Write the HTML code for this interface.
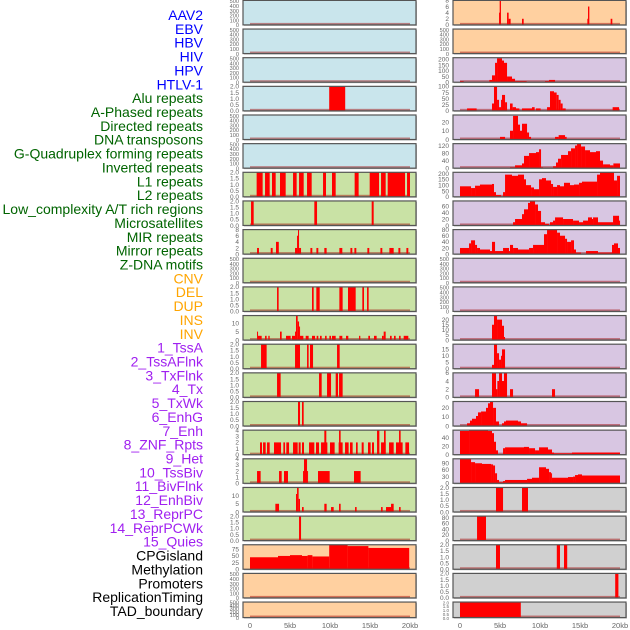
<!DOCTYPE html>
<html><head><meta charset="utf-8"><style>
html,body{margin:0;padding:0;background:#fff;}
svg{display:block;font-family:"Liberation Sans",sans-serif;}
</style></head><body>
<svg id="chart" width="630" height="630" viewBox="0 0 630 630" xmlns="http://www.w3.org/2000/svg"></svg>
<script>
// ---- row labels ----
const labelTexts = ["AAV2","EBV","HBV","HIV","HPV","HTLV-1","Alu repeats","A-Phased repeats","Directed repeats","DNA transposons","G-Quadruplex forming repeats","Inverted repeats","L1 repeats","L2 repeats","Low_complexity A/T rich regions","Microsatellites","MIR repeats","Mirror repeats","Z-DNA motifs","CNV","DEL","DUP","INS","INV","1_TssA","2_TssAFlnk","3_TxFlnk","4_Tx","5_TxWk","6_EnhG","7_Enh","8_ZNF_Rpts","9_Het","10_TssBiv","11_BivFlnk","12_EnhBiv","13_ReprPC","14_ReprPCWk","15_Quies","CPGisland","Methylation","Promoters","ReplicationTiming","TAD_boundary"];
const labelGroups = ["v","v","v","v","v","v","r","r","r","r","r","r","r","r","r","r","r","r","r","s","s","s","s","s","c","c","c","c","c","c","c","c","c","c","c","c","c","c","c","o","o","o","o","o"];
// ---- x axis ----
const xTickValues = [0,5,10,15,20];
const xTickLabels = ["0","5kb","10kb","15kb","20kb"];
// ---- tick sets ----
const T500 = [0,100,200,300,400,500];
const T2 = [0,0.5,1,1.5,2];
// ---- left column series: [startKb, endKb, value] ----
const L0=[],L1=[],L2=[],L4=[],L5=[],L9=[],L20=[],L21=[];
const L3=[[9.9,11.9,2]];
const L6=[[0.83,1.58,2],[1.88,2.46,2],[2.75,3.21,2],[3.75,4.46,2],[5.38,5.83,2],[6.13,6.71,2],[7.13,7.71,2],[9.13,9.5,2],[10.25,10.71,2],[13.08,13.58,2],[14.96,16.13,2],[16.38,16.96,2],[17.21,19.38,2],[19.63,20,2]];
const L7=[[0.13,0.46,2],[8.04,8.38,2],[15.21,15.46,2]];
const L8=[[0.88,1.12,2],[2.59,2.83,2],[3.25,3.6,4],[5.63,5.88,2],[5.88,6.0,6],[6.0,6.13,8],[6.13,6.38,2],[7.55,7.79,2],[8.3,8.54,2],[9.29,9.58,2],[11.17,11.54,2],[12.55,12.79,2],[13.05,13.29,2],[14.67,14.91,2],[16.3,16.54,2],[17.42,17.96,2],[18.55,18.79,2],[19.55,19.79,2]];
const L10=[[3.38,3.58,2],[7.75,7.96,2],[8.29,8.71,2],[11.17,11.58,2],[12.25,13.21,2],[14.04,14.25,2],[14.63,14.83,2]];
const L11=[[0.88,1.0,5],[1.0,1.46,2.5],[1.88,2.08,2.5],[2.29,2.46,2.5],[3.75,3.96,5],[4.5,5.08,2.5],[5.25,5.63,2.5],[5.63,5.75,5],[5.75,5.96,14.5],[5.96,6.13,11],[6.13,6.21,8],[6.21,6.67,2.5],[6.96,7.33,2.5],[7.75,8.13,2.5],[8.33,8.54,2.5],[8.75,8.96,2.5],[9.38,9.58,2.5],[9.92,10.13,2.5],[10.25,10.71,2.5],[11.17,11.54,2.5],[12.0,12.29,2.5],[13.63,13.79,2.5],[14.79,15.0,2.5],[15.5,15.83,2.5],[16.5,16.71,2.5],[16.71,16.96,5],[17.5,17.71,2.5],[18.0,18.21,2.5],[18.63,18.83,2.5],[19.21,19.79,2.5]];
const L12=[[1.38,2.08,2],[5.63,6.25,2],[7.13,7.33,2],[7.5,7.88,2],[10.88,11.21,2]];
const L13=[[3.38,3.83,2],[8.63,8.96,2],[9.63,10.13,2],[10.71,11.0,2],[11.13,11.58,2]];
const L14=[[6.0,6.25,2],[6.5,6.71,2]];
const L15=[[1.25,1.5,2],[1.63,1.96,2],[2.13,2.46,2],[3.0,3.88,2],[4.17,4.38,2],[4.54,4.88,2],[5.38,5.96,2],[6.08,6.33,2],[6.5,6.75,2],[7.38,8.04,2],[8.25,8.63,2],[8.88,9.67,2],[9.29,9.54,4],[10.0,10.58,2],[11.08,11.58,2],[11.13,11.33,4],[11.88,12.33,2],[12.5,12.83,2],[13.25,13.46,2],[13.96,14.21,2],[14.75,15.08,2],[15.25,15.5,2],[15.88,16.17,4],[16.38,16.96,2],[16.75,16.96,4],[17.38,17.96,2],[18.25,19.08,2],[18.63,18.83,4],[19.42,19.88,2]];
const L16=[[0.88,1.33,2],[3.63,3.96,2],[4.25,4.75,2],[6.63,6.75,2],[6.75,7.13,4],[7.13,7.25,2],[8.5,9.96,2],[13.0,13.83,2]];
const L17=[[3.17,3.63,5],[5.75,5.88,11],[5.88,6.08,15],[6.08,6.25,8],[6.5,6.71,3],[9.29,9.58,5],[10.13,10.46,3],[11.13,11.33,5],[13.13,13.33,3],[16.38,16.58,3],[17.0,17.63,3],[17.63,17.96,5],[18.63,18.83,3]];
const L18=[[6.13,6.38,2]];
const L19=[[0,3.5,45],[3.5,5,50],[5,6.5,53],[6.5,7.2,50],[7.2,7.8,53],[7.8,9.9,48],[9.9,12.2,92],[12.2,14.8,87],[14.8,19.9,80]];
// ---- right column series ----
const R1=[],R9=[],R10=[];
const R0=[[4.88,4.96,4],[4.96,5.12,8],[5.88,6.08,4],[6.08,6.33,2],[7.75,7.96,2],[15.92,16.0,2],[16.0,16.17,6],[18.83,19.04,2]];
const R2=[[0,0.46,10],[3.67,4.0,20],[4.0,4.38,60],[4.38,4.63,170],[4.63,5.25,210],[5.25,5.5,190],[5.5,5.88,170],[5.88,6.5,50],[6.5,6.88,30],[6.88,8.33,10],[10.63,11.13,10],[11.13,11.88,20]];
const R3=[[0.88,2.08,10],[4.0,4.25,30],[4.25,4.63,100],[4.63,4.88,45],[4.88,5.13,15],[5.13,5.25,45],[5.25,5.63,65],[5.63,5.88,35],[6.25,6.58,30],[6.58,7.0,15],[7.0,7.42,10],[7.75,9.0,10],[9.0,9.33,15],[9.5,10.08,10],[10.88,11.25,15],[11.25,11.75,80],[11.75,12.08,75],[12.08,12.33,65],[12.33,12.58,45],[12.58,12.83,30],[12.83,13.21,10],[19.08,19.88,15]];
const R4=[[5.0,5.63,3],[6.25,6.63,10],[6.63,7.25,27],[7.25,7.5,17],[7.5,7.75,10],[7.75,8.38,18],[8.38,8.63,8],[8.63,8.88,3],[11.88,12.33,3],[12.33,13.13,5],[13.13,13.33,3]];
const R5=[[6.25,6.88,5],[6.88,7.75,15],[7.75,8,25],[8,8.63,65],[8.63,9.5,80],[9.5,9.88,85],[9.88,10.13,100],[10.13,10.38,5],[11.63,12,10],[12,12.25,30],[12.25,12.63,50],[12.63,13.5,70],[13.5,13.88,90],[13.88,14.38,105],[14.38,14.63,120],[14.63,15.13,130],[15.13,15.63,115],[15.63,16.25,95],[16.25,17,85],[17,17.5,90],[17.5,17.88,40],[17.88,18.75,20],[18.75,19.17,15],[19.17,20,25]];
const R6=[[0,1.38,90],[1.38,1.88,75],[1.88,2.5,95],[2.5,4,105],[4,4.25,110],[4.25,4.5,40],[4.5,5.13,15],[5.38,5.63,40],[5.63,6.5,190],[6.5,7.25,180],[7.25,8,190],[8,8.25,150],[8.25,8.88,100],[8.88,9.25,80],[9.25,9.88,65],[9.88,10.25,150],[10.25,10.75,160],[10.75,11.38,140],[11.38,11.63,110],[11.63,12.13,85],[12.13,12.5,100],[12.5,13,90],[13,13.75,120],[13.75,14.25,100],[14.25,14.88,105],[14.88,15.25,120],[15.25,17.13,130],[17.13,17.5,190],[17.5,19.25,210],[19.25,19.63,140],[19.63,20,180]];
const R7=[[6.63,6.88,10],[6.88,7.75,20],[7.75,8,35],[8,8.5,50],[8.5,8.75,70],[8.75,9.38,75],[9.38,9.75,65],[9.75,10.13,45],[10.13,10.63,10],[10.63,11.13,5],[11.25,11.63,10],[11.63,11.88,15],[11.88,12.88,25],[12.88,14.13,20],[14.13,14.88,15],[14.88,15.38,10],[15.38,16,15],[16,16.5,25],[16.5,16.63,20],[16.63,17.25,25],[17.25,19.13,10],[19.13,19.88,30],[19.88,20,15]];
const R8=[[0,1.13,20],[1.13,1.38,35],[1.38,1.88,45],[1.88,2.13,30],[2.13,2.5,20],[2.5,3.75,15],[3.75,4,10],[4,4.38,40],[4.38,5.38,10],[5.38,6.13,20],[6.13,6.25,10],[6.25,6.63,30],[6.63,7.25,20],[7.25,8.63,15],[8.63,9.13,20],[9.13,10.5,30],[10.5,10.88,65],[10.88,12.13,80],[12.13,12.5,70],[12.5,13.13,60],[13.13,13.38,50],[13.38,13.88,40],[13.88,14.25,45],[14.25,14.5,15],[14.5,15.13,5],[15.75,17.25,10],[17.25,19,5],[19,19.25,30],[19.25,19.75,35],[19.75,20,20]];
const R11=[[4,4.25,15],[4.25,4.63,24],[4.63,5.25,20],[5.25,5.5,14],[5.5,5.63,3]];
const R12=[[4,4.25,3],[4.25,4.63,19],[4.63,4.88,12],[4.88,5.13,7],[5.13,5.25,10],[5.25,5.63,15]];
const R13=[[1.88,2.38,2],[4,4.5,6],[4.5,4.67,2],[4.67,4.88,4],[4.88,5.25,6],[5.25,5.5,4],[5.5,5.88,6],[6.25,6.63,2],[11.5,11.88,2]];
const R14=[[0.88,1.25,3],[1.25,1.5,6],[1.5,2,8],[2,2.25,11],[2.25,2.63,15],[2.63,3.25,16],[3.25,3.5,20],[3.5,3.75,25],[3.75,4.13,27],[4.13,4.5,20],[4.5,4.88,5],[5.25,5.5,3],[5.5,5.75,5],[5.75,7.25,6],[7.25,7.63,5],[7.63,8.38,3]];
const R15=[[0,1.13,55],[1.13,3.5,57],[3.5,4,55],[4,4.25,50],[4.25,4.5,30],[4.5,4.75,10],[5.38,5.63,15],[5.63,8,17],[8,8.63,18],[8.63,9.38,15],[9.38,9.88,10],[9.88,11,17],[11,11.5,12],[11.5,11.75,5],[11.75,14,3],[14,20,5]];
const R16=[[0,1.38,110],[1.38,1.88,95],[1.88,2.75,90],[2.75,3.88,87],[3.88,4.13,85],[4.13,4.38,80],[4.38,4.63,45],[4.63,4.88,15],[4.88,5.38,5],[5.38,5.63,10],[5.63,8.38,15],[8.38,9,20],[9,9.88,25],[9.88,10.75,72],[10.75,11.13,65],[11.13,11.38,50],[11.38,11.5,45],[11.5,13.5,25],[13.5,14.13,28],[14.13,14.38,30],[14.38,14.75,37],[14.75,15.25,40],[15.25,20,35]];
const R17=[[4.5,5.38,2],[7.75,8.5,2]];
const R18=[[2.13,3.25,85]];
const R19=[[4.5,5.0,2],[12.1,12.5,2],[13.0,13.4,2]];
const R20=[[19.4,19.8,2]];
const R21=[[0,7.6,2]];

const leftData=[L0,L1,L2,L3,L4,L5,L6,L7,L8,L9,L10,L11,L12,L13,L14,L15,L16,L17,L18,L19,L20,L21];
const rightData=[R0,R1,R2,R3,R4,R5,R6,R7,R8,R9,R10,R11,R12,R13,R14,R15,R16,R17,R18,R19,R20,R21];
const leftMax=[510,510,510,2,510,510,2,2,8,510,2,14.5,2,2,2,4,4,15,2,92,510,510];
const rightMax=[8,510,215,100,28,130,210,76,80,510,510,24,19,6,27,57,110,2,85,2,2,2];
const leftTicks=[T500,T500,T500,T2,T500,T500,T2,T2,[0,2,4,6,8],T500,T2,[0,5,10],T2,T2,T2,[0,1,2,3,4],[0,1,2,3,4],[0,5,10],T2,[0,25,50,75],T500,T500];
const rightTicks=[[0,2,4,6,8],T500,[0,50,100,150,200],[0,25,50,75,100],[0,10,20],[0,40,80,120],[0,50,100,150,200],[0,20,40,60],[0,20,40,60,80],T500,T500,[0,5,10,15,20],[0,5,10,15],[0,2,4,6],[0,10,20],[0,20,40],[0,30,60,90],T2,[0,20,40,60,80],T2,T2,T2];
const leftBg=["b","b","b","b","b","b","g","g","g","g","g","g","g","g","g","g","g","g","g","p","p","p"];
const rightBg=["p","p","u","u","u","u","u","u","u","u","u","u","u","u","u","u","u","k","k","k","k","k"];

const NS="http://www.w3.org/2000/svg";
const svg=document.getElementById('chart');
function mk(tag,attrs,parent){const e=document.createElementNS(NS,tag);for(const k in attrs)e.setAttribute(k,attrs[k]);(parent||svg).appendChild(e);return e;}
const bgColors={b:"#c9e5ec",g:"#c9e2a5",p:"#ffd0a0",u:"#d8c6e2",k:"#d0d0d0"};
const labelColors={v:"#0000ff",r:"#006400",s:"#ffa500",c:"#a020f0",o:"#000000"};
const cols=[{x0:243,x1:416,z:250},{x0:453,x1:626,z:460}];
function xScale(col,kb){return cols[col].z+kb*8;}
function rowTop(i){return 0.4+i*28.65;}
function rowH(i){return i===21?15.5:24.5;}
function fmtTick(t,ticks){return ticks===T2?t.toFixed(1):String(t);}

// labels
labelTexts.forEach((txt,i)=>{
  const t=mk('text',{x:203,y:20+i*13.86,'text-anchor':'end','font-size':14,fill:labelColors[labelGroups[i]]});
  t.textContent=txt;
  
  
});

function drawPanel(col,i,data,ymax,ticks,bg){
  const g=mk('g',{});
  
  
  const top=rowTop(i),h=rowH(i),bot=top+h,c=cols[col];
  const shadow=mk('rect',{x:c.x0+1,y:top+1,width:c.x1-c.x0,height:h,fill:'#bbb'},g);
  
  
  const bgr=mk('rect',{x:c.x0,y:top,width:c.x1-c.x0,height:h,fill:bgColors[bg]},g);
  
  
  const y=v=>bot-Math.min(v,ymax)/ymax*h;
  const base=mk('rect',{x:xScale(col,0),y:bot-2,width:xScale(col,20)-xScale(col,0),height:2,fill:'rgba(160,0,0,0.45)'},g);
  
  
  data.forEach(d=>{
    const r=mk('rect',{x:xScale(col,d[0]),y:y(d[2]),width:Math.max(1,xScale(col,d[1])-xScale(col,d[0])),height:bot-y(d[2]),fill:'#ff0000'},g);
    
    
  });
  const br=mk('rect',{x:c.x0,y:top,width:c.x1-c.x0,height:h,fill:'none',stroke:'#555','stroke-width':1.2},g);
  
  
  const fs=ticks===T500?5.6:(ticks.length>=5&&h<20?4.5:6.5);
  ticks.forEach(t=>{
    const tl=mk('text',{x:c.x0-4,y:y(t)+2.3,'text-anchor':'end','font-size':fs,fill:'#666'},g);
    tl.textContent=fmtTick(t,ticks);
    
    
  });
}
for(let i=0;i<22;i++){
  drawPanel(0,i,leftData[i],leftMax[i],leftTicks[i],leftBg[i]);
  drawPanel(1,i,rightData[i],rightMax[i],rightTicks[i],rightBg[i]);
}
// x axes
[0,1].forEach(col=>{
  xTickValues.forEach((v,k)=>{
    const t=mk('text',{x:xScale(col,v),y:628,'text-anchor':'middle','font-size':7.5,fill:'#666'});
    t.textContent=xTickLabels[k];
    
    
  });
});
</script>
</body></html>
